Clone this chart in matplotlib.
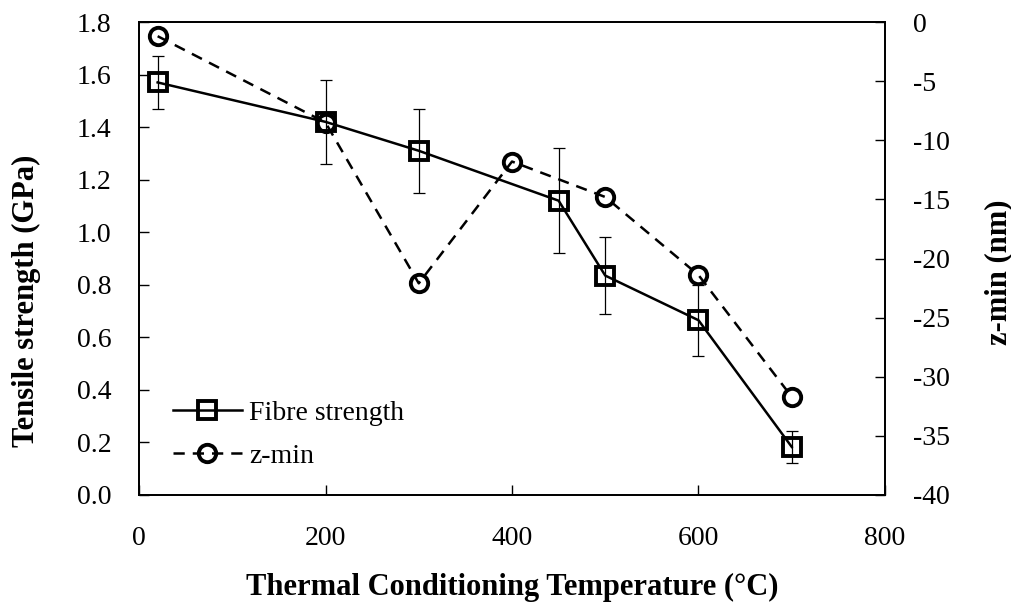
import numpy as np
import matplotlib
matplotlib.use("Agg")
import matplotlib.pyplot as plt

# data
temp_strength = [20, 200, 300, 450, 500, 600, 700]
fibre_strength = [1.57, 1.42, 1.31, 1.12, 0.835, 0.665, 0.183]
fibre_err = [0.10, 0.16, 0.16, 0.20, 0.145, 0.135, 0.06]

temp_zmin = [20, 200, 300, 400, 500, 600, 700]
z_min = [-1.2, -8.5, -22.1, -11.8, -14.8, -21.4, -31.7]

x_ticks = [0, 200, 400, 600, 800]
left_ticks = [0.0, 0.2, 0.4, 0.6, 0.8, 1.0, 1.2, 1.4, 1.6, 1.8]
right_ticks = [0, -5, -10, -15, -20, -25, -30, -35, -40]

plt.rcParams['font.family'] = ['Liberation Serif', 'DejaVu Serif']
plt.rcParams['axes.unicode_minus'] = False
tick_size = 20
label_size = 22

fig = plt.figure(figsize=(10.11, 6.05), dpi=100)
ax = fig.add_axes([139 / 1011, 1 - 495 / 605, (885 - 139) / 1011, (495 - 22) / 605])
ax2 = ax.twinx()

# fibre strength with error bars
ax.errorbar(temp_strength, fibre_strength, yerr=fibre_err, fmt='none',
            ecolor='black', elinewidth=0.9, capsize=4.5, capthick=0.9, zorder=2)
line1, = ax.plot(temp_strength, fibre_strength, color='black', lw=1.8,
                 marker='s', markersize=12.5, markerfacecolor='none',
                 markeredgewidth=2.8, markeredgecolor='black', zorder=3,
                 label='Fibre strength')

# z-min on right axis
line2, = ax2.plot(temp_zmin, z_min, color='black', lw=1.8, ls=(0, (4.5, 3.2)),
                  marker='o', markersize=12.5, markerfacecolor='none',
                  markeredgewidth=2.8, markeredgecolor='black',
                  label='z-min')

ax.set_xlim(0, 800)
ax.set_ylim(0, 1.8)
ax2.set_ylim(-40, 0)
ax.set_xticks(x_ticks)
ax.set_yticks(left_ticks)
ax.set_yticklabels(["%.1f" % v for v in left_ticks])
ax2.set_yticks(right_ticks)

ax.tick_params(axis='both', direction='in', length=7, width=1, labelsize=tick_size)
ax.tick_params(axis='y', pad=20)
ax.tick_params(axis='x', pad=22)
ax2.tick_params(axis='y', direction='in', length=7, width=1, labelsize=tick_size, pad=20)

for a in (ax, ax2):
    for s in a.spines.values():
        s.set_linewidth(1.3)

ax.set_xlabel('Thermal Conditioning Temperature (°C)', fontsize=label_size, fontweight='bold')
ax.xaxis.set_label_coords(0.5, -0.165)
ax.set_ylabel('Tensile strength (GPa)', fontsize=label_size, fontweight='bold', va='center')
ax.yaxis.set_label_coords(-0.151, 0.41)
ax2.set_ylabel('z-min (nm)', fontsize=label_size, fontweight='bold', rotation=90, va='center')
ax2.yaxis.set_label_coords(1.152, 0.471)

ax2.legend(handles=[line1, line2], loc='upper left',
           bbox_to_anchor=(0.045, 0.2), frameon=False, fontsize=tick_size,
           handlelength=2.5, handletextpad=0.25, labelspacing=0.62,
           borderpad=0, borderaxespad=0, numpoints=1)

fig.savefig('out.png', dpi=100)
